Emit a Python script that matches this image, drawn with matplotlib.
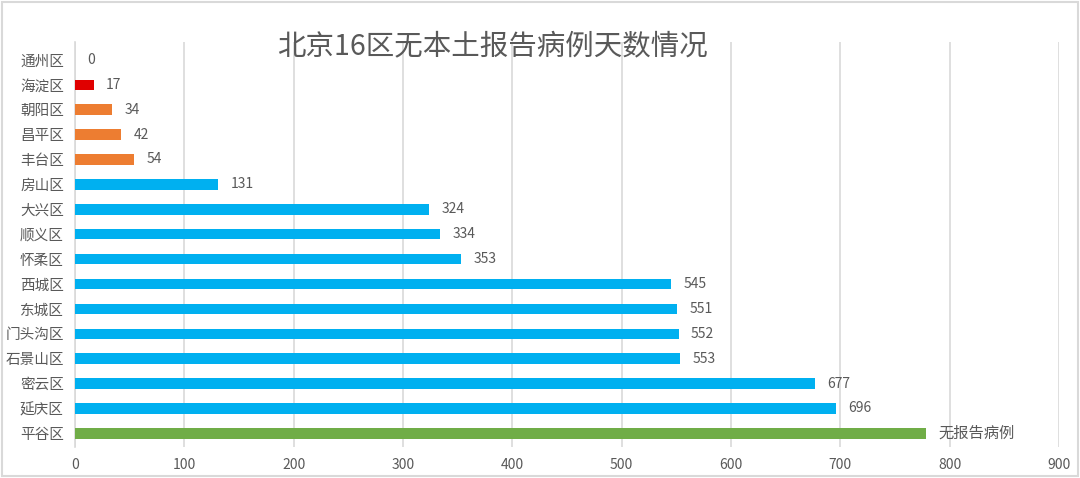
import matplotlib
matplotlib.use("Agg")
import matplotlib.pyplot as plt
from matplotlib.patches import Rectangle

plt.rcParams['font.family'] = ['Noto Sans CJK SC', 'DejaVu Sans']

districts = ["通州区", "海淀区", "朝阳区", "昌平区", "丰台区", "房山区", "大兴区", "顺义区",
             "怀柔区", "西城区", "东城区", "门头沟区", "石景山区", "密云区", "延庆区", "平谷区"]
days = [0, 17, 34, 42, 54, 131, 324, 334, 353, 545, 551, 552, 553, 677, 696, 778]
labels = ["0", "17", "34", "42", "54", "131", "324", "334", "353", "545", "551", "552",
          "553", "677", "696", "无报告病例"]
colors = ["#E00000", "#E00000", "#ED7D31", "#ED7D31", "#ED7D31", "#00B0F0", "#00B0F0",
          "#00B0F0", "#00B0F0", "#00B0F0", "#00B0F0", "#00B0F0", "#00B0F0", "#00B0F0",
          "#00B0F0", "#70AD47"]
xticks = [0, 100, 200, 300, 400, 500, 600, 700, 800, 900]
title = "北京16区无本土报告病例天数情况"

W, H = 1080, 478
fig = plt.figure(figsize=(W / 100, H / 100), dpi=100)
fig.patches.append(Rectangle((2 / W, 2 / H), 1 - 4 / W, 1 - 4 / H, transform=fig.transFigure,
                             fill=False, edgecolor="#D9D9D9", linewidth=1.5))

left, right, top, bottom = 75, 1059, 42, 447
ax = fig.add_axes([left / W, 1 - bottom / H, (right - left) / W, (bottom - top) / H])

ypos = list(range(len(districts)))
ax.barh(ypos, days, height=0.42, color=colors, zorder=3)
ax.set_xlim(0, 900)
ax.set_ylim(15.55, -0.72)
ax.set_xticks(xticks)
ax.set_xticklabels([str(v) for v in xticks])
ax.set_yticks(ypos)
ax.set_yticklabels(districts)
ax.tick_params(axis='both', length=0, colors="#595959", labelsize=10)
ax.tick_params(axis='x', pad=8)
ax.tick_params(axis='y', pad=8)
for lab in ax.get_yticklabels():
    lab.set_fontsize(10.5)
ax.grid(axis='x', color="#D9D9D9", linewidth=1.2, zorder=0)
for s in ["top", "right", "bottom"]:
    ax.spines[s].set_visible(False)
ax.spines["left"].set_color("#D9D9D9")
ax.spines["left"].set_linewidth(1.2)

for y, v, t in zip(ypos, days, labels):
    ax.annotate(t, (v, y), xytext=(9, 0), textcoords="offset points", va="center",
                ha="left", fontsize=10 if t[0].isdigit() else 11, color="#595959")

fig.text(492 / W, 1 - 46 / H, title, ha="center", va="center", fontsize=20.5,
         color="#595959", fontweight="medium")

fig.savefig("out.png", dpi=100)
